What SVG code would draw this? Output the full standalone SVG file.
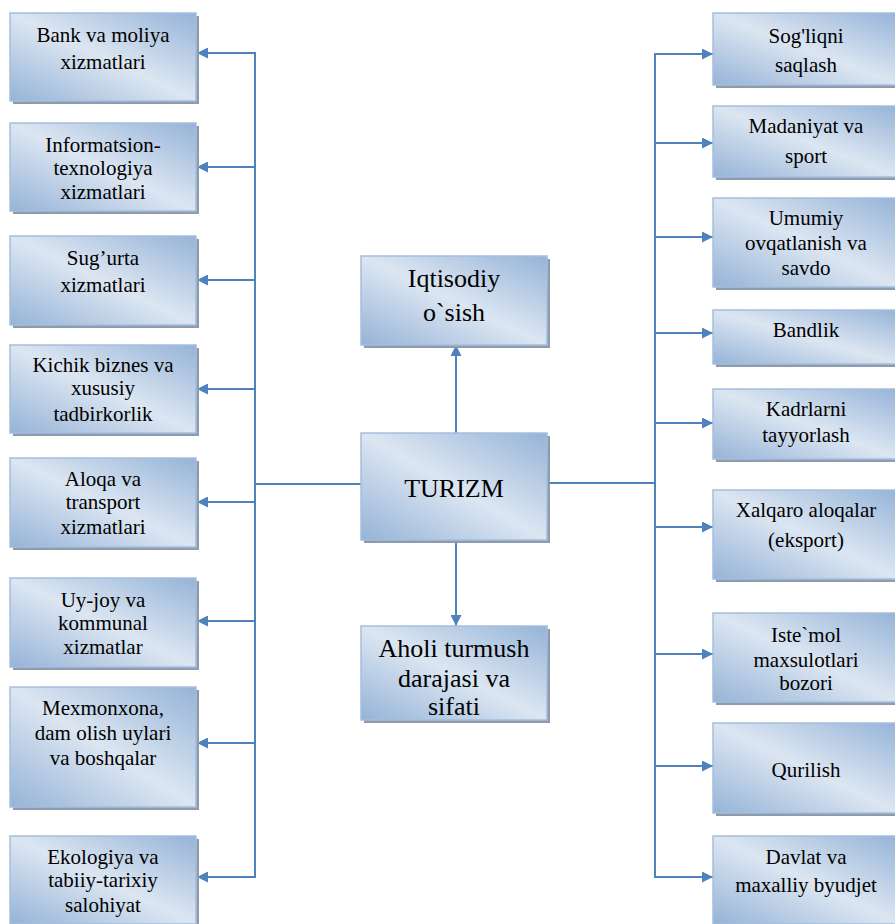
<svg xmlns="http://www.w3.org/2000/svg" width="895" height="924" viewBox="0 0 895 924">
<defs>
<linearGradient id="g" x1="1" y1="0" x2="0" y2="1">
<stop offset="0" stop-color="#95b3d7"/>
<stop offset="0.5" stop-color="#dce6f2"/>
<stop offset="1" stop-color="#95b3d7"/>
</linearGradient>
<marker id="ah" viewBox="0 0 10 10" markerWidth="11" markerHeight="11" markerUnits="userSpaceOnUse" refX="10" refY="5" orient="auto">
<path d="M0,0 L10,5 L0,10 Z" fill="#4f81bd"/>
</marker>
<style>
.sh{fill:#8e9bad}
.bx{fill:url(#g);stroke:#a5bfdd;stroke-width:1.5}
.t{font-size:21px;fill:#000;text-anchor:middle}
.tc{font-size:26px;fill:#000;text-anchor:middle}
.ln{fill:none;stroke:#4f81bd;stroke-width:2}
.ar{fill:none;stroke:#4f81bd;stroke-width:2;marker-end:url(#ah)}
</style>
</defs>

<g id="connectors">
<path class="ln" d="M255,53 V877"/>
<path class="ln" d="M655,54 V877"/>
<path class="ln" d="M255,484 H361"/>
<path class="ln" d="M547,483 H655"/>
<path class="ar" d="M256,53 H197"/>
<path class="ar" d="M255,167 H197"/>
<path class="ar" d="M255,280 H197"/>
<path class="ar" d="M255,389 H197"/>
<path class="ar" d="M255,502 H197"/>
<path class="ar" d="M255,621 H197"/>
<path class="ar" d="M255,743 H197"/>
<path class="ar" d="M256,877 H197"/>
<path class="ar" d="M654,54 H713"/>
<path class="ar" d="M655,143 H713"/>
<path class="ar" d="M655,237 H713"/>
<path class="ar" d="M655,333 H713"/>
<path class="ar" d="M655,423 H713"/>
<path class="ar" d="M655,527 H713"/>
<path class="ar" d="M655,654 H713"/>
<path class="ar" d="M655,766 H713"/>
<path class="ar" d="M654,877 H713"/>
<path class="ar" d="M456,433 V345"/>
<path class="ar" d="M456,540 V626"/>
</g>

<g font-family="Liberation Serif, Tinos, Times New Roman, serif">
<g id="n-bank"><rect class="sh" x="13" y="16" width="186" height="88"/><rect class="bx" x="10" y="13" width="186" height="88"/>
<text class="t" x="103" y="42">Bank va moliya</text><text class="t" x="103" y="69">xizmatlari</text></g>

<g id="n-info"><rect class="sh" x="13" y="126" width="186" height="88"/><rect class="bx" x="10" y="123" width="186" height="88"/>
<text class="t" x="103" y="152">Informatsion-</text><text class="t" x="103" y="175">texnologiya</text><text class="t" x="103" y="199">xizmatlari</text></g>

<g id="n-sugurta"><rect class="sh" x="13" y="239" width="186" height="89"/><rect class="bx" x="10" y="236" width="186" height="89"/>
<text class="t" x="103" y="265">Sug’urta</text><text class="t" x="103" y="292">xizmatlari</text></g>

<g id="n-kichik"><rect class="sh" x="13" y="348" width="186" height="88"/><rect class="bx" x="10" y="345" width="186" height="88"/>
<text class="t" x="103" y="372">Kichik biznes va</text><text class="t" x="103" y="395">xususiy</text><text class="t" x="103" y="421">tadbirkorlik</text></g>

<g id="n-aloqa"><rect class="sh" x="13" y="461" width="186" height="89"/><rect class="bx" x="10" y="458" width="186" height="89"/>
<text class="t" x="103" y="486">Aloqa va</text><text class="t" x="103" y="509">transport</text><text class="t" x="103" y="534">xizmatlari</text></g>

<g id="n-uyjoy"><rect class="sh" x="13" y="581" width="186" height="89"/><rect class="bx" x="10" y="578" width="186" height="89"/>
<text class="t" x="103" y="607">Uy-joy va</text><text class="t" x="103" y="630">kommunal</text><text class="t" x="103" y="654">xizmatlar</text></g>

<g id="n-mexmon"><rect class="sh" x="13" y="690" width="186" height="120"/><rect class="bx" x="10" y="687" width="186" height="120"/>
<text class="t" x="103" y="715">Mexmonxona,</text><text class="t" x="103" y="740">dam olish uylari</text><text class="t" x="103" y="765">va boshqalar</text></g>

<g id="n-ekolog"><rect class="sh" x="13" y="839" width="186" height="88"/><rect class="bx" x="10" y="836" width="186" height="88"/>
<text class="t" x="103" y="864">Ekologiya va</text><text class="t" x="103" y="887">tabiiy-tarixiy</text><text class="t" x="103" y="912">salohiyat</text></g>

<g id="n-iqtisod"><rect class="sh" x="364" y="259" width="186" height="89"/><rect class="bx" x="361" y="256" width="186" height="89"/>
<text class="tc" x="454" y="287">Iqtisodiy</text><text class="tc" x="454" y="321">o`sish</text></g>

<g id="n-turizm"><rect class="sh" x="364" y="436" width="186" height="107"/><rect class="bx" x="361" y="433" width="186" height="107"/>
<text class="tc" x="454" y="497">TURIZM</text></g>

<g id="n-aholi"><rect class="sh" x="364" y="629" width="186" height="94"/><rect class="bx" x="361" y="626" width="186" height="94"/>
<text class="tc" x="454" y="657">Aholi turmush</text><text class="tc" x="454" y="687">darajasi va</text><text class="tc" x="454" y="715">sifati</text></g>

<g id="n-sogliq"><rect class="sh" x="716" y="16" width="186" height="72"/><rect class="bx" x="713" y="13" width="186" height="72"/>
<text class="t" x="806" y="43">Sog'liqni</text><text class="t" x="806" y="72">saqlash</text></g>

<g id="n-madan"><rect class="sh" x="716" y="109" width="186" height="71"/><rect class="bx" x="713" y="106" width="186" height="71"/>
<text class="t" x="806" y="133">Madaniyat va</text><text class="t" x="806" y="163">sport</text></g>

<g id="n-umumiy"><rect class="sh" x="716" y="201" width="186" height="89"/><rect class="bx" x="713" y="198" width="186" height="89"/>
<text class="t" x="806" y="225">Umumiy</text><text class="t" x="806" y="250">ovqatlanish va</text><text class="t" x="806" y="275">savdo</text></g>

<g id="n-bandlik"><rect class="sh" x="716" y="313" width="186" height="54"/><rect class="bx" x="713" y="310" width="186" height="54"/>
<text class="t" x="806" y="337">Bandlik</text></g>

<g id="n-kadr"><rect class="sh" x="716" y="392" width="186" height="70"/><rect class="bx" x="713" y="389" width="186" height="70"/>
<text class="t" x="806" y="416">Kadrlarni</text><text class="t" x="806" y="442">tayyorlash</text></g>

<g id="n-xalqaro"><rect class="sh" x="716" y="493" width="186" height="89"/><rect class="bx" x="713" y="490" width="186" height="89"/>
<text class="t" x="806" y="517">Xalqaro aloqalar</text><text class="t" x="806" y="547">(eksport)</text></g>

<g id="n-istemol"><rect class="sh" x="716" y="616" width="186" height="89"/><rect class="bx" x="713" y="613" width="186" height="89"/>
<text class="t" x="806" y="642">Iste`mol</text><text class="t" x="806" y="667">maxsulotlari</text><text class="t" x="806" y="690">bozori</text></g>

<g id="n-qurilish"><rect class="sh" x="716" y="726" width="186" height="90"/><rect class="bx" x="713" y="723" width="186" height="90"/>
<text class="t" x="806" y="777">Qurilish</text></g>

<g id="n-davlat"><rect class="sh" x="716" y="839" width="186" height="88"/><rect class="bx" x="713" y="836" width="186" height="88"/>
<text class="t" x="806" y="864">Davlat va</text><text class="t" x="806" y="892">maxalliy byudjet</text></g>
</g>
</svg>
